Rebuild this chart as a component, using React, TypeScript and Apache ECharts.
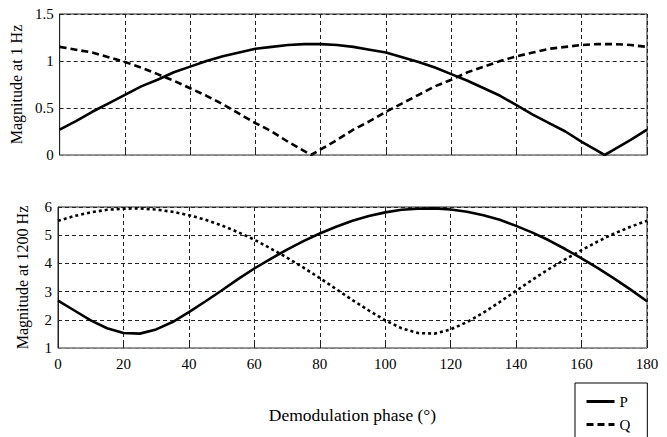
import React, { useEffect, useRef } from "react";
import * as echarts from "echarts";

const xTicks = [0, 20, 40, 60, 80, 100, 120, 140, 160, 180];

const topX = [0, 5, 10, 15, 20, 25, 30, 35, 40, 45, 50, 55, 60, 65, 70, 75, 77, 80, 85, 90, 95, 100, 105, 110, 115, 120, 125, 130, 135, 140, 145, 150, 155, 160, 165, 167, 170, 175, 180];
const topP = [0.27, 0.36, 0.46, 0.55, 0.64, 0.73, 0.8, 0.88, 0.94, 1.0, 1.05, 1.09, 1.13, 1.15, 1.17, 1.18, 1.18, 1.18, 1.17, 1.15, 1.12, 1.09, 1.04, 0.99, 0.93, 0.86, 0.79, 0.71, 0.63, 0.53, 0.43, 0.34, 0.25, 0.14, 0.04, 0.0, 0.06, 0.16, 0.27];
const topQ = [1.15, 1.12, 1.09, 1.04, 0.99, 0.93, 0.86, 0.79, 0.71, 0.63, 0.54, 0.44, 0.34, 0.25, 0.14, 0.04, 0.0, 0.06, 0.16, 0.27, 0.36, 0.46, 0.55, 0.64, 0.73, 0.8, 0.88, 0.94, 1.0, 1.05, 1.09, 1.13, 1.15, 1.17, 1.18, 1.18, 1.18, 1.17, 1.15];

const botX = [0, 5, 10, 15, 20, 25, 30, 35, 40, 45, 50, 55, 60, 65, 70, 75, 80, 85, 90, 95, 100, 105, 110, 115, 120, 125, 130, 135, 140, 145, 150, 155, 160, 165, 170, 175, 180];
const botP = [2.68, 2.33, 1.98, 1.7, 1.53, 1.51, 1.66, 1.92, 2.27, 2.65, 3.04, 3.44, 3.82, 4.16, 4.49, 4.79, 5.06, 5.3, 5.51, 5.68, 5.81, 5.9, 5.94, 5.95, 5.91, 5.83, 5.71, 5.55, 5.33, 5.09, 4.82, 4.51, 4.18, 3.83, 3.46, 3.07, 2.66];
const botQ = [5.51, 5.68, 5.81, 5.9, 5.94, 5.95, 5.91, 5.83, 5.71, 5.55, 5.35, 5.11, 4.84, 4.53, 4.2, 3.85, 3.48, 3.09, 2.7, 2.33, 1.98, 1.7, 1.53, 1.51, 1.66, 1.92, 2.25, 2.63, 3.03, 3.42, 3.8, 4.14, 4.47, 4.78, 5.06, 5.3, 5.51];

const legendNames = ["P", "Q"];

const FONT = "Liberation Serif";

export default function App() {
  const ref = useRef<HTMLDivElement>(null);
  useEffect(() => {
    if (!ref.current) return;
    const chart = echarts.init(ref.current, null, { renderer: "svg" });
    const gridLine = { show: true, lineStyle: { color: "#222", type: [4, 3] as any, width: 1 } };
    const xAxisBase = (gi: number, labels: boolean) => ({
      type: "value",
      gridIndex: gi,
      min: 0,
      max: 180,
      interval: 20,
      axisLine: { show: true, lineStyle: { color: "#999", width: 1.5 } },
      axisTick: { show: true, inside: true, length: 4, lineStyle: { color: "#222" } },
      axisLabel: {
        show: labels,
        color: "#000",
        fontFamily: FONT,
        fontSize: 15,
        margin: 8,
      },
      splitLine: gridLine,
      name: labels ? "Demodulation phase (°)" : "",
      nameLocation: "middle",
      nameGap: 58,
      nameTextStyle: { color: "#000", fontFamily: FONT, fontSize: 17.5 },
    });
    const yAxisBase = (gi: number, min: number, max: number, interval: number, name: string) => ({
      type: "value",
      gridIndex: gi,
      min,
      max,
      interval,
      axisLine: { show: true, lineStyle: { color: "#222", width: 1 } },
      axisTick: { show: false },
      axisLabel: { color: "#000", fontFamily: FONT, fontSize: 15, margin: 6 },
      splitLine: gridLine,
      name,
      nameLocation: "middle",
      nameGap: 28,
      nameTextStyle: { color: "#000", fontFamily: FONT, fontSize: 16 },
    });
    const solid = { color: "#000", width: 2.6, type: "solid" };
    chart.setOption({
      animation: false,
      backgroundColor: "#fff",
      grid: [
        { left: 58, top: 14, width: 589, height: 141, show: true, borderColor: "#222", borderWidth: 1, backgroundColor: "transparent" },
        { left: 58, top: 207, width: 589, height: 141, show: true, borderColor: "#222", borderWidth: 1, backgroundColor: "transparent" },
      ],
      xAxis: [xAxisBase(0, false), xAxisBase(1, true)],
      yAxis: [
        yAxisBase(0, 0, 1.5, 0.5, "Magnitude at 1 Hz"),
        yAxisBase(1, 1, 6, 1, "Magnitude at 1200 Hz"),
      ],
      legend: {
        orient: "vertical",
        left: 575,
        top: 383,
        width: 50,
        height: 80,
        padding: [11, 17, 16, 10],
        itemWidth: 28,
        itemHeight: 14,
        itemGap: 8,
        borderColor: "#000",
        borderWidth: 1,
        backgroundColor: "#fff",
        borderRadius: 0,
        itemStyle: { opacity: 0 },
        lineStyle: { width: 3 },
        textStyle: { color: "#000", fontFamily: FONT, fontSize: 15 },
        data: legendNames,
      },
      series: [
        {
          name: legendNames[0],
          type: "line",
          xAxisIndex: 0,
          yAxisIndex: 0,
          data: topX.map((x, i) => [x, topP[i]]),
          showSymbol: false,
          symbol: "none",
          lineStyle: solid,
          itemStyle: { color: "#000" },
        },
        {
          name: legendNames[1],
          type: "line",
          xAxisIndex: 0,
          yAxisIndex: 0,
          data: topX.map((x, i) => [x, topQ[i]]),
          showSymbol: false,
          symbol: "none",
          lineStyle: { color: "#000", width: 2.6, type: [7, 4], cap: "butt" },
          itemStyle: { color: "#000" },
        },
        {
          name: legendNames[0],
          type: "line",
          xAxisIndex: 1,
          yAxisIndex: 1,
          data: botX.map((x, i) => [x, botP[i]]),
          showSymbol: false,
          symbol: "none",
          lineStyle: solid,
          itemStyle: { color: "#000" },
        },
        {
          name: legendNames[1],
          type: "line",
          xAxisIndex: 1,
          yAxisIndex: 1,
          data: botX.map((x, i) => [x, botQ[i]]),
          showSymbol: false,
          symbol: "none",
          lineStyle: { color: "#000", width: 2.6, type: [3, 3], cap: "butt" },
          itemStyle: { color: "#000" },
        },
      ],
    });
    return () => chart.dispose();
  }, []);
  return (
    <div
      ref={ref}
      style={{ position: "fixed", left: 0, top: 0, width: 667, height: 437, background: "#fff" }}
    />
  );
}
